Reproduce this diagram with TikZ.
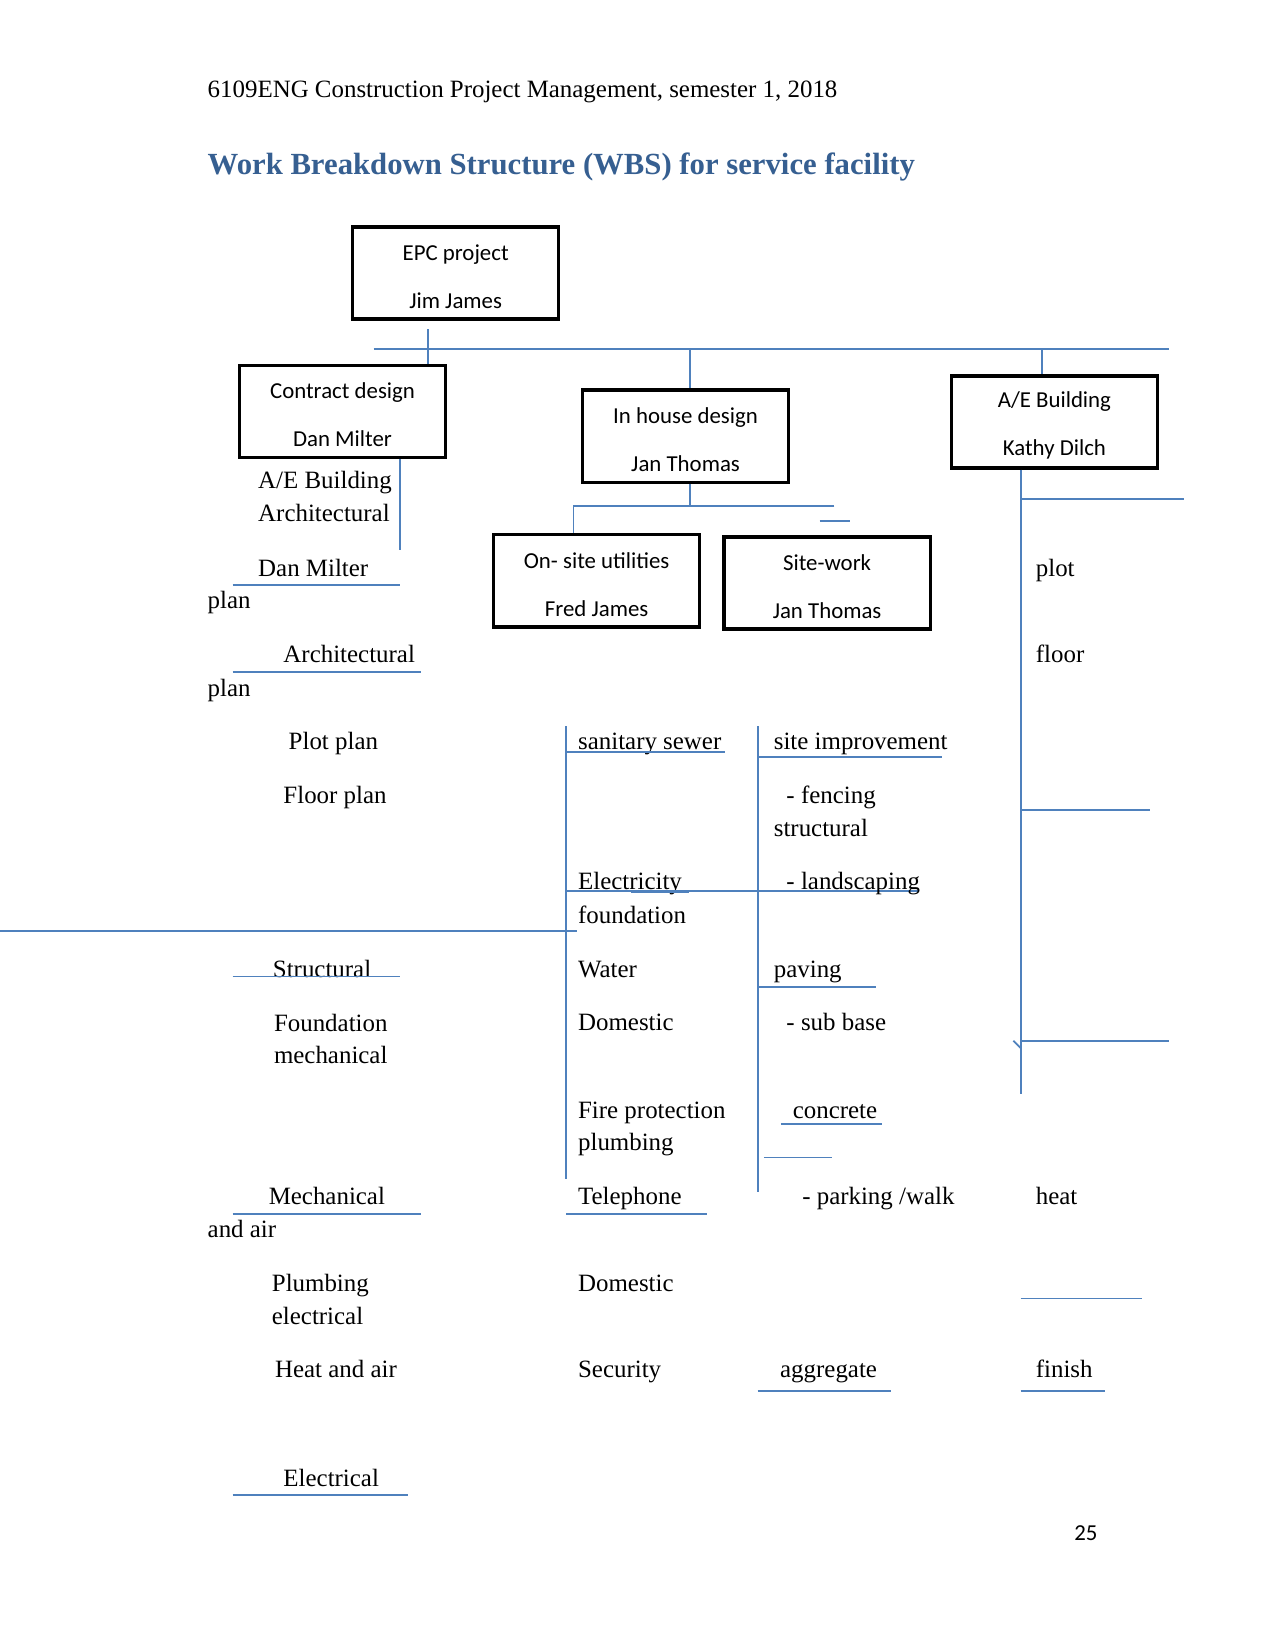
\documentclass[tikz,border=0pt]{standalone}
\usepackage{fontspec}
\setmainfont{Liberation Serif}
\newfontfamily\boxfont{Carlito}
\usetikzlibrary{positioning}

\definecolor{wbsblue}{RGB}{79,129,189}
\definecolor{headblue}{RGB}{54,95,145}

\tikzset{
  wbsbox/.style={draw=black, line width=1.6pt, minimum width=34.9mm,
    minimum height=15.6mm, align=center, inner sep=0pt,
    font=\boxfont\fontsize{11}{13.5}\selectfont},
  link/.style={draw=wbsblue, line width=0.9pt},
  item/.style={anchor=mid west, inner sep=0pt, yshift=-0.7mm},
}

\begin{document}
\begin{tikzpicture}[x=0.17813mm, y=-0.17813mm, font=\fontsize{12}{14}\selectfont]
  \useasboundingbox (0,0) rectangle (1212,1568);

  % page head and title
  \node[anchor=base west, inner sep=0pt] (head) at (197,93)
    {6109ENG Construction Project Management, semester 1, 2018};
  \node[anchor=base west, inner sep=0pt, text=headblue,
    font=\bfseries\fontsize{14.8}{17}\selectfont] (title) at (197,166)
    {Work Breakdown Structure (WBS) for service facility};

  % boxes
  \node[wbsbox] (epc) at (433,259.5) {\rule{0pt}{11pt}EPC project\\[9.6pt]Jim James};
  \node[wbsbox] (contract) at (325.5,391) {\rule{0pt}{11pt}Contract design\\[9.6pt]Dan Milter};
  \node[wbsbox] (inhouse) at (651.5,414.5) {\rule{0pt}{11pt}In house design\\[9.6pt]Jan Thomas};
  \node[wbsbox] (aebuild) at (1002,401) {\rule{0pt}{11pt}A/E Building\\[9.6pt]Kathy Dilch};
  \node[wbsbox] (onsite) at (567,552) {\rule{0pt}{11pt}On- site utilities\\[9.6pt]Fred James};
  \node[wbsbox] (sitework) at (786,554) {\rule{0pt}{11pt}Site-work\\[9.6pt]Jan Thomas};

  % connectors
  \coordinate (epcFoot) at (407,313);
  \coordinate (barL) at (355,332);
  \coordinate (barR) at (1111,332);
  \coordinate (ihTop) at (656,332);
  \coordinate (aeTop) at (990,332);
  \coordinate (cdFoot) at (380,523);
  \coordinate (ihJoin) at (656,481);
  \coordinate (ihL) at (545,481);
  \coordinate (ihR) at (793,481);
  \coordinate (aeFoot) at (970,1040);
  \draw[link] (epcFoot) -- (contract.north -| epcFoot);
  \draw[link] (barL) -- (barR);
  \draw[link] (ihTop) -- (inhouse.north -| ihTop);
  \draw[link] (aeTop) -- (aebuild.north -| aeTop);
  \draw[link] (contract.south -| cdFoot) -- (cdFoot);
  \draw[link] (inhouse.south -| ihJoin) -- (ihJoin);
  \draw[link] (ihR) -- (ihL) -- (onsite.north -| ihL);
  \draw[link] (779,495) -- (808,495);
  \draw[link] (aebuild.south -| aeFoot) -- (aeFoot);

  % left column
  \node[item] (l1) at (245,456) {A/E Building};
  \node[item] (l2) at (245,487) {Architectural};
  \node[item] (l3) at (245,539) {Dan Milter};
  \node[item] (l4) at (197,570) {plan};
  \node[item] (l5) at (269,621) {Architectural};
  \node[item] (l6) at (197,653) {plan};
  \node[item] (l7) at (274,704) {Plot plan};
  \node[item] (l8) at (269,755) {Floor plan};
  \node[item] (l9) at (259,920) {Structural};
  \node[item] (l10) at (260,972) {Foundation};
  \node[item] (l11) at (260,1002) {mechanical};
  \node[item] (l12) at (255,1136) {Mechanical};
  \node[item] (l13) at (197,1168) {and air};
  \node[item] (l14) at (258,1219) {Plumbing};
  \node[item] (l15) at (258,1250) {electrical};
  \node[item] (l16) at (261,1301) {Heat and air};
  \node[item] (l17) at (269,1404) {Electrical};
  \draw[link] (221,556) -- (380,556);
  \draw[link] (221,639) -- (400,639);
  \draw[link] (221,928) -- (380,928);
  \draw[link] (221,1154) -- (400,1154);
  \draw[link] (221,1421) -- (388,1421);
  \draw[link] (0,885) -- (548,885);

  % utilities column
  \node[item] (m1) at (549,704) {sanitary sewer};
  \node[item] (m2) at (549,837) {Electricity};
  \node[item] (m3) at (549,869) {foundation};
  \node[item] (m4) at (549,920) {Water};
  \node[item] (m5) at (549,971) {Domestic};
  \node[item] (m6) at (549,1054) {Fire protection};
  \node[item] (m7) at (549,1085) {plumbing};
  \node[item] (m8) at (549,1136) {Telephone};
  \node[item] (m9) at (549,1219) {Domestic};
  \node[item] (m10) at (549,1301) {Security};
  \draw[link] (538,690) -- (538,1120);
  \draw[link] (538,715) -- (689,715);
  \draw[link] (538,847) -- (873,847);
  \draw[link, line width=1.4pt] (600,847) -- (655,847);
  \draw[link] (538,1154) -- (672,1154);

  % site-work column
  \node[item] (s1) at (735,704) {site improvement};
  \node[item] (s2) at (747,755) {- fencing};
  \node[item] (s3) at (735,786) {structural};
  \node[item] (s4) at (747,837) {- landscaping};
  \node[item] (s5) at (735,920) {paving};
  \node[item] (s6) at (747,971) {- sub base};
  \node[item] (s7) at (753,1054) {concrete};
  \node[item] (s8) at (762,1136) {- parking /walk};
  \node[item] (s9) at (741,1301) {aggregate};
  \draw[link] (720,690) -- (720,1133);
  \draw[link] (720,719) -- (895,719);
  \draw[link] (720,938) -- (832,938);
  \draw[link] (742,1068) -- (838,1068);
  \draw[link] (726,1100) -- (791,1100);
  \draw[link] (720,1322) -- (847,1322);

  % building column
  \node[item] (r1) at (984,539) {plot};
  \node[item] (r2) at (984,621) {floor};
  \node[item] (r3) at (984,1136) {heat};
  \node[item] (r4) at (984,1301) {finish};
  \draw[link] (970,474) -- (1125,474);
  \draw[link] (970,770) -- (1093,770);
  \draw[link] (970,989) -- (1111,989);
  \draw[link] (963,989) -- (970,996);
  \draw[link] (970,1234) -- (1085,1234);
  \draw[link] (970,1322) -- (1050,1322);

  % page number
  \node[inner sep=0pt, font=\boxfont\fontsize{11}{13}\selectfont] (pageno) at (1032,1457) {25};
\end{tikzpicture}
\end{document}
